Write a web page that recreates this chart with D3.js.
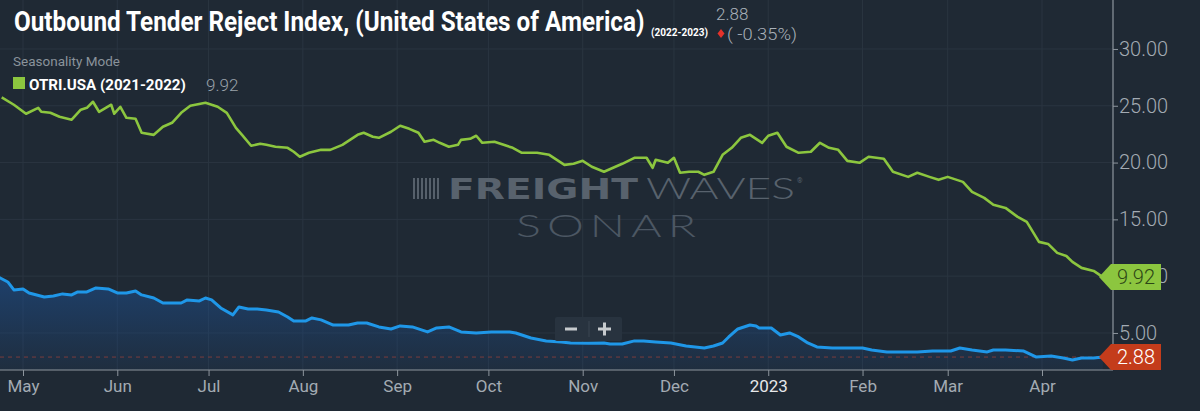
<!DOCTYPE html>
<html>
<head>
<meta charset="utf-8">
<script src="https://cdn.jsdelivr.net/npm/d3@7"></script>
<style>
  html, body { margin: 0; padding: 0; background: #1f2934; }
  svg { display: block; font-family: Roboto, "Noto Sans", sans-serif; }
</style>
</head>
<body>
<svg id="chart" width="1200" height="411"></svg>
<script>
// OTRI.USA 2021-2022 (seasonality overlay, green)
var greenDates = [
  '2022-04-24','2022-04-28','2022-05-02','2022-05-06','2022-05-07','2022-05-10','2022-05-13','2022-05-17',
  '2022-05-20','2022-05-22','2022-05-24','2022-05-26','2022-05-30','2022-05-31','2022-06-02','2022-06-04',
  '2022-06-07','2022-06-09','2022-06-13','2022-06-16','2022-06-19','2022-06-22','2022-06-25','2022-06-30',
  '2022-07-04','2022-07-07','2022-07-10','2022-07-12','2022-07-15','2022-07-18','2022-07-20','2022-07-23',
  '2022-07-27','2022-07-29','2022-07-31','2022-08-03','2022-08-07','2022-08-10','2022-08-14','2022-08-19',
  '2022-08-21','2022-08-24','2022-08-26','2022-08-30','2022-09-02','2022-09-05','2022-09-08','2022-09-10',
  '2022-09-13','2022-09-15','2022-09-18','2022-09-21','2022-09-22','2022-09-25','2022-09-27','2022-09-29',
  '2022-10-03','2022-10-06','2022-10-09','2022-10-12','2022-10-17','2022-10-21','2022-10-26','2022-10-29',
  '2022-11-01','2022-11-04','2022-11-08','2022-11-11','2022-11-14','2022-11-18','2022-11-22','2022-11-24',
  '2022-11-25','2022-11-29','2022-12-01','2022-12-03','2022-12-06','2022-12-09','2022-12-11','2022-12-14',
  '2022-12-17','2022-12-20','2022-12-23','2022-12-26','2022-12-30','2023-01-01','2023-01-04','2023-01-07',
  '2023-01-11','2023-01-15','2023-01-18','2023-01-21','2023-01-24','2023-01-27','2023-01-31','2023-02-03',
  '2023-02-08','2023-02-11','2023-02-16','2023-02-19','2023-02-23','2023-02-26','2023-03-01','2023-03-06',
  '2023-03-09','2023-03-13','2023-03-16','2023-03-20','2023-03-24','2023-03-27','2023-03-31','2023-04-03',
  '2023-04-06','2023-04-09','2023-04-11','2023-04-14','2023-04-18','2023-04-21'
];
var greenValues = [
  25.73,25.09,24.30,24.82,24.47,24.38,24.03,23.77,
  24.65,24.82,25.35,24.47,25.09,24.30,24.91,23.94,
  23.85,22.62,22.44,23.15,23.50,24.38,25.00,25.26,
  24.91,24.38,23.06,22.44,21.48,21.65,21.56,21.39,
  21.30,20.95,20.51,20.86,21.12,21.12,21.56,22.44,
  22.62,22.27,22.18,22.71,23.24,22.97,22.62,21.83,
  22.00,21.74,21.39,21.56,22.00,22.09,22.36,21.74,
  21.83,21.56,21.30,20.86,20.86,20.68,19.80,19.89,
  20.15,19.63,19.19,19.54,19.89,20.42,20.42,19.54,
  20.24,19.98,20.42,19.10,19.19,19.19,18.92,19.19,
  20.68,21.30,22.18,22.44,21.74,22.36,22.62,21.39,
  20.86,20.95,21.74,21.30,21.12,20.15,19.98,20.51,
  20.33,19.19,18.74,19.10,18.74,18.48,18.74,18.30,
  17.42,16.89,16.28,16.01,15.22,14.78,13.02,12.84,
  12.05,11.78,11.26,10.73,10.46,9.92
];

// OTRI.USA 2022-2023 (current, blue)
var blueDates = [
  '2022-04-23','2022-04-26','2022-04-28','2022-05-01','2022-05-03','2022-05-08','2022-05-11','2022-05-14',
  '2022-05-17','2022-05-19','2022-05-22','2022-05-25','2022-05-29','2022-06-01','2022-06-04','2022-06-07',
  '2022-06-09','2022-06-13','2022-06-16','2022-06-19','2022-06-22','2022-06-24','2022-06-28','2022-06-30',
  '2022-07-02','2022-07-05','2022-07-09','2022-07-11','2022-07-14','2022-07-17','2022-07-20','2022-07-24',
  '2022-07-27','2022-07-29','2022-08-02','2022-08-04','2022-08-07','2022-08-11','2022-08-16','2022-08-19',
  '2022-08-22','2022-08-26','2022-08-30','2022-09-02','2022-09-06','2022-09-11','2022-09-14','2022-09-18',
  '2022-09-22','2022-09-27','2022-10-02','2022-10-08','2022-10-10','2022-10-15','2022-10-20','2022-10-25',
  '2022-10-28','2022-11-03','2022-11-08','2022-11-10','2022-11-14','2022-11-18','2022-11-21','2022-11-25',
  '2022-11-30','2022-12-05','2022-12-11','2022-12-14','2022-12-17','2022-12-19','2022-12-22','2022-12-26',
  '2022-12-28','2022-12-29','2023-01-02','2023-01-05','2023-01-08','2023-01-11','2023-01-14','2023-01-17',
  '2023-01-22','2023-01-28','2023-02-01','2023-02-04','2023-02-09','2023-02-13','2023-02-19','2023-02-24',
  '2023-03-02','2023-03-05','2023-03-09','2023-03-14','2023-03-16','2023-03-20','2023-03-26','2023-03-30',
  '2023-04-04','2023-04-08','2023-04-11','2023-04-14','2023-04-18','2023-04-21'
];
var blueValues = [
  9.91,9.49,8.79,8.88,8.52,8.17,8.26,8.44,
  8.35,8.61,8.61,8.96,8.88,8.52,8.52,8.70,
  8.35,8.08,7.64,7.64,7.64,7.91,7.82,8.08,
  7.91,7.20,6.59,7.29,7.11,7.11,7.03,6.85,
  6.41,6.06,6.06,6.32,6.15,5.70,5.70,5.88,
  5.88,5.53,5.35,5.62,5.53,5.09,5.44,5.53,
  5.09,5.00,5.09,5.09,5.00,4.56,4.30,4.21,
  4.12,4.10,4.12,4.03,4.03,4.30,4.30,4.21,
  4.12,3.85,3.68,3.85,4.12,4.65,5.35,5.70,
  5.62,5.44,5.44,4.82,5.00,4.65,4.12,3.77,
  3.68,3.68,3.68,3.50,3.33,3.33,3.33,3.41,
  3.41,3.68,3.50,3.33,3.50,3.50,3.41,2.89,
  2.97,2.80,2.62,2.80,2.80,2.88
];

var yTicks = [5, 10, 15, 20, 25, 30];
var lastGreen = 9.92;
var lastBlue = 2.88;

var parse = d3.timeParse('%Y-%m-%d');
var green = greenDates.map(function(d, i) { return { date: parse(d), value: greenValues[i] }; });
var blue = blueDates.map(function(d, i) { return { date: parse(d), value: blueValues[i] }; });

var svg = d3.select('#chart');
var W = 1200, H = 411;
var plotRight = 1113, plotBottom = 370;

svg.append('rect').attr('width', W).attr('height', H).attr('fill', '#1f2934');

var x = d3.scaleTime()
  .domain([parse('2022-05-01'), parse('2023-04-01')])
  .range([23, 1042]);
var y = d3.scaleLinear()
  .domain([1.74, 34.31])
  .range([plotBottom, 0]);

var months = d3.timeMonth.range(parse('2022-05-01'), parse('2023-04-02'));

// squeeze a text horizontally to a given width (condensed look)
function fitWidth(sel, x0, width) {
  var len = sel.node().getComputedTextLength();
  var k = width / len;
  sel.attr('x', 0).attr('transform', 'translate(' + x0 + ',0) scale(' + k + ',1)');
  return sel;
}

// grid
var grid = svg.append('g');
grid.selectAll('line.v').data(months).enter().append('line')
  .attr('x1', function(d) { return x(d); }).attr('x2', function(d) { return x(d); })
  .attr('y1', 0).attr('y2', plotBottom)
  .attr('stroke', '#2a3541').attr('stroke-width', 1);
grid.selectAll('line.h').data(yTicks).enter().append('line')
  .attr('x1', 0).attr('x2', plotRight)
  .attr('y1', function(d) { return y(d); }).attr('y2', function(d) { return y(d); })
  .attr('stroke', '#2a3541').attr('stroke-width', 1);

// watermark
var wm = svg.append('g');
for (var i = 0; i < 7; i++) {
  wm.append('rect').attr('x', 413 + i * 4).attr('y', 178).attr('width', 2).attr('height', 21)
    .attr('fill', '#56606b');
}
fitWidth(wm.append('text').attr('y', 199).text('FREIGHT')
  .attr('font-family', '"DejaVu Sans", sans-serif').attr('font-weight', 'bold')
  .attr('font-size', 29).attr('fill', '#58626d'), 448, 190);
fitWidth(wm.append('text').attr('y', 199).text('WAVES')
  .attr('font-family', 'Lato, Roboto, sans-serif').attr('font-weight', 300)
  .attr('font-size', 29).attr('fill', '#58626d'), 646, 149);
wm.append('text').attr('x', 797).attr('y', 183).text('®')
  .attr('font-size', 7).attr('fill', '#56606b');
fitWidth(wm.append('text').attr('y', 237).text('SONAR')
  .attr('font-family', 'Lato, Roboto, sans-serif').attr('font-weight', 300)
  .attr('font-size', 31).attr('letter-spacing', 4).attr('fill', '#4c5763'), 516, 186);

// clip
svg.append('clipPath').attr('id', 'plotclip').append('rect')
  .attr('x', 0).attr('y', 0).attr('width', plotRight).attr('height', plotBottom);

// blue area gradient
var grad = svg.append('defs').append('linearGradient').attr('id', 'blueFill')
  .attr('x1', 0).attr('y1', 0).attr('x2', 0).attr('y2', 1);
grad.append('stop').attr('offset', '0%').attr('stop-color', '#1d4f8f').attr('stop-opacity', 0.6);
grad.append('stop').attr('offset', '100%').attr('stop-color', '#1d4f8f').attr('stop-opacity', 0.12);

var plot = svg.append('g').attr('clip-path', 'url(#plotclip)');

var area = d3.area()
  .x(function(d) { return x(d.date); })
  .y0(plotBottom)
  .y1(function(d) { return y(d.value); });
plot.append('path').datum(blue).attr('d', area).attr('fill', 'url(#blueFill)');

// reference line for last value
plot.append('line')
  .attr('x1', 0).attr('x2', plotRight)
  .attr('y1', y(lastBlue)).attr('y2', y(lastBlue))
  .attr('stroke', '#7a3d3d').attr('stroke-width', 1).attr('stroke-dasharray', '4,4');

var line = d3.line()
  .x(function(d) { return x(d.date); })
  .y(function(d) { return y(d.value); });

plot.append('path').datum(green).attr('d', line)
  .attr('fill', 'none').attr('stroke', '#8cc63f').attr('stroke-width', 2.6)
  .attr('stroke-linejoin', 'round');
plot.append('path').datum(blue).attr('d', line)
  .attr('fill', 'none').attr('stroke', '#1f97e8').attr('stroke-width', 3)
  .attr('stroke-linejoin', 'round');

// axes
var xAxis = d3.axisBottom(x).tickValues(months).tickSize(6).tickSizeOuter(0)
  .tickFormat(function(d) { return d.getMonth() === 0 ? d3.timeFormat('%Y')(d) : d3.timeFormat('%b')(d); });
var gx = svg.append('g').attr('transform', 'translate(0,' + plotBottom + ')').call(xAxis);
gx.select('.domain').remove();
gx.append('line').attr('x1', 0).attr('x2', plotRight).attr('stroke', '#8e969e').attr('stroke-width', 1.2);
gx.selectAll('.tick line').attr('stroke', '#8e969e');
gx.selectAll('.tick text')
  .attr('dy', '0.45em').attr('y', 14)
  .attr('font-family', 'Roboto, sans-serif').attr('font-size', 17)
  .attr('fill', function(d) { return d.getMonth() === 0 ? '#e6e8ea' : '#a3abb3'; });

var yAxis = d3.axisRight(y).tickValues(yTicks).tickSize(5).tickSizeOuter(0)
  .tickFormat(d3.format('.2f'));
var gy = svg.append('g').attr('transform', 'translate(' + plotRight + ',0)').call(yAxis);
gy.select('.domain').remove();
gy.append('line').attr('y1', 0).attr('y2', plotBottom).attr('stroke', '#8e969e').attr('stroke-width', 1.2);
gy.selectAll('.tick line').attr('stroke', '#8e969e');
gy.selectAll('.tick text')
  .attr('x', 6)
  .attr('font-family', 'Roboto, sans-serif').attr('font-weight', 300).attr('font-size', 20)
  .attr('fill', '#a3abb3');

// last-value tags
function tag(value, fill, textFill) {
  var ty = y(value);
  var g = svg.append('g');
  g.append('path')
    .attr('d', 'M1099,' + ty + ' L1111,' + (ty - 13) + ' L1161,' + (ty - 13) + ' L1161,' + (ty + 13) +
      ' L1111,' + (ty + 13) + ' Z')
    .attr('fill', fill);
  g.append('text').attr('x', 1136).attr('y', ty).attr('dy', '0.36em')
    .attr('text-anchor', 'middle').attr('font-size', 20).attr('font-weight', 300)
    .attr('fill', textFill).text(value.toFixed(2));
}
tag(lastGreen, '#8cc63f', '#2c4716');
tag(lastBlue, '#c43c1b', '#ffffff');

// zoom buttons
var zb = svg.append('g');
zb.append('rect').attr('x', 555).attr('y', 317).attr('width', 67).attr('height', 24).attr('rx', 2)
  .attr('fill', '#28333f');
zb.append('line').attr('x1', 589).attr('x2', 589).attr('y1', 321).attr('y2', 337).attr('stroke', '#3b4652');
zb.append('rect').attr('x', 565).attr('y', 327.5).attr('width', 12).attr('height', 3).attr('fill', '#c6cacd');
zb.append('rect').attr('x', 598).attr('y', 327.5).attr('width', 13).attr('height', 3).attr('fill', '#c6cacd');
zb.append('rect').attr('x', 603).attr('y', 322.5).attr('width', 3).attr('height', 13).attr('fill', '#c6cacd');

// title & legend
fitWidth(svg.append('text').attr('y', 31)
  .attr('font-weight', 'bold').attr('font-size', 27).attr('fill', '#ffffff')
  .text('Outbound Tender Reject Index, (United States of America)'), 14, 631);
fitWidth(svg.append('text').attr('y', 36)
  .attr('font-weight', 'bold').attr('font-size', 10).attr('fill', '#ffffff')
  .text('(2022-2023)'), 651, 57);
svg.append('text').attr('x', 716).attr('y', 20)
  .attr('font-size', 17).attr('font-weight', 300).attr('fill', '#a9b1b9')
  .text(lastBlue.toFixed(2));
svg.append('path').attr('d', 'M721,29 L724.5,33.5 L721,38 L717.5,33.5 Z').attr('fill', '#e4322b');
fitWidth(svg.append('text').attr('y', 40)
  .attr('font-size', 17).attr('font-weight', 300).attr('fill', '#a9b1b9')
  .text('( -0.35%)'), 727, 70);

fitWidth(svg.append('text').attr('y', 66)
  .attr('font-size', 13).attr('fill', '#8a939b')
  .text('Seasonality Mode'), 13, 107);
svg.append('rect').attr('x', 13).attr('y', 77).attr('width', 12).attr('height', 12).attr('fill', '#8cc63f');
fitWidth(svg.append('text').attr('y', 90)
  .attr('font-weight', 'bold').attr('font-size', 15).attr('fill', '#ffffff')
  .text('OTRI.USA (2021-2022)'), 29, 157);
svg.append('text').attr('x', 206).attr('y', 91)
  .attr('font-size', 17).attr('font-weight', 300).attr('fill', '#9aa2aa')
  .text(lastGreen.toFixed(2));
</script>
</body>
</html>
